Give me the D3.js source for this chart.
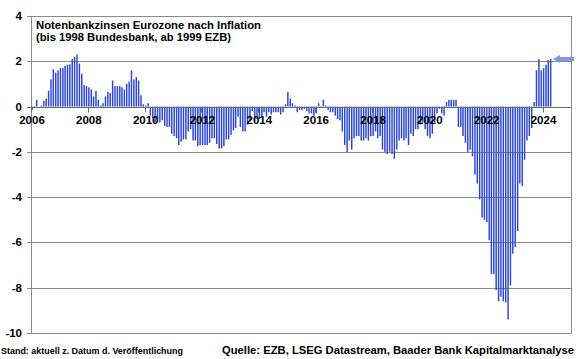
<!DOCTYPE html>
<html>
<head>
<meta charset="utf-8">
<script src="https://cdn.jsdelivr.net/npm/d3@7"></script>
<style>
  html, body { margin: 0; padding: 0; background: #fff; }
  svg { display: block; font-family: "Liberation Sans", Arial, sans-serif; }
</style>
</head>
<body>
<svg id="chart" width="580" height="359"></svg>
<script>
// ---- data (monthly, real central bank rate after inflation, % ) ----
const firstYear = 2006;
const realRate = [
  // 2006
  -0.15, -0.05, 0.3, 0.0, 0.05, 0.25, 0.35, 0.7, 1.2, 1.65, 1.5, 1.6,
  // 2007
  1.7, 1.7, 1.8, 1.85, 1.87, 2.1, 2.2, 2.3, 1.9, 1.45, 0.95, 0.9,
  // 2008
  0.85, 0.75, 0.45, 0.7, 0.3, 0.05, 0.15, 0.45, 0.65, 0.6, 1.15, 0.9,
  // 2009
  0.9, 0.9, 0.85, 0.75, 1.0, 1.1, 1.6, 1.2, 1.3, 1.15, 0.5, 0.1,
  // 2010
  0.05, 0.15, -0.4, -0.5, -0.7, -0.55, -0.7, -0.6, -0.85, -0.9, -0.9, -1.2,
  // 2011
  -1.3, -1.4, -1.7, -1.55, -1.45, -1.45, -1.1, -1.0, -1.5, -1.5, -1.75, -1.7,
  // 2012
  -1.7, -1.7, -1.7, -1.6, -1.4, -1.4, -1.65, -1.85, -1.85, -1.75, -1.45, -1.45,
  // 2013
  -1.25, -1.05, -0.95, -0.45, -0.9, -1.1, -1.1, -0.8, -0.6, -0.2, -0.65, -0.55,
  // 2014
  -0.55, -0.45, -0.25, -0.45, -0.25, -0.35, -0.25, -0.25, -0.25, -0.35, -0.25, 0.1,
  // 2015
  0.65, 0.35, 0.15, 0.05, -0.25, -0.15, -0.15, -0.1, -0.2, -0.3, -0.3, -0.4,
  // 2016
  -0.3, 0.15, -0.05, 0.3, 0.05, -0.15, -0.25, -0.25, -0.4, -0.55, -0.6, -1.1,
  // 2017
  -1.7, -2.0, -1.5, -1.9, -1.4, -1.3, -1.3, -1.5, -1.5, -1.4, -1.5, -1.3,
  // 2018
  -1.3, -1.1, -1.4, -1.3, -1.9, -2.0, -2.1, -2.0, -2.1, -2.3, -1.9, -1.5,
  // 2019
  -1.4, -1.5, -1.4, -1.7, -1.2, -1.3, -1.0, -1.0, -0.8, -0.7, -1.0, -1.3,
  // 2020
  -1.4, -1.2, -0.7, -0.3, -0.1, -0.3, -0.4, 0.2, 0.3, 0.3, 0.3, 0.3,
  // 2021
  -0.9, -0.9, -1.3, -1.6, -2.0, -1.9, -2.2, -3.0, -3.4, -4.1, -4.9, -5.0,
  // 2022
  -5.1, -5.9, -7.4, -7.4, -8.1, -8.6, -8.4, -8.6, -8.65, -9.4, -7.9, -6.5,
  // 2023
  -6.2, -5.5, -3.4, -3.5, -2.35, -1.5, -1.3, -0.95, 0.2, 1.6, 2.1, 1.6,
  // 2024
  1.7, 1.85, 2.05, 2.1
];
const xTickYears = [2006, 2008, 2010, 2012, 2014, 2016, 2018, 2020, 2022, 2024];
const yTicks = [4, 2, 0, -2, -4, -6, -8, -10];
const titleLines = ["Notenbankzinsen Eurozone nach Inflation", "(bis 1998 Bundesbank, ab 1999 EZB)"];
const footLeft = "Stand: aktuell z. Datum d. Veröffentlichung";
const footRight = "Quelle: EZB, LSEG Datastream, Baader Bank Kapitalmarktanalyse";

// ---- build ----
const data = realRate.map((v, i) => ({
  date: new Date(firstYear + Math.floor(i / 12), i % 12, 15),
  value: v
}));

const svg = d3.select("#chart");
const pLeft = 31, pRight = 571, pTop = 16, pBottom = 333;

const x = d3.scaleTime()
  .domain([new Date(2006, 0, 1), new Date(2025, 0, 1)])
  .range([pLeft, pRight]);
const y = d3.scaleLinear().domain([-10, 4]).range([pBottom, pTop]);

// gridlines
svg.append("g").selectAll("line").data(yTicks).join("line")
  .attr("x1", pLeft - 4).attr("x2", pRight)
  .attr("y1", d => Math.round(y(d)) + 0.5).attr("y2", d => Math.round(y(d)) + 0.5)
  .attr("stroke", d => d === 0 ? "#6a6a6a" : "#8c8c8c")
  .attr("stroke-width", 1);

// plot frame vertical lines
svg.append("line").attr("x1", pLeft + 0.5).attr("x2", pLeft + 0.5)
  .attr("y1", pTop).attr("y2", pBottom + 0.5).attr("stroke", "#8c8c8c");
svg.append("line").attr("x1", pRight + 0.5).attr("x2", pRight + 0.5)
  .attr("y1", pTop).attr("y2", pBottom + 0.5).attr("stroke", "#8c8c8c");

// bars
const barW = 1.45;
svg.append("g").selectAll("rect").data(data).join("rect")
  .attr("x", d => x(d.date) - barW / 2)
  .attr("width", barW)
  .attr("y", d => Math.min(y(d.value), y(0)))
  .attr("height", d => Math.abs(y(d.value) - y(0)))
  .attr("fill", "#2a46d2");

// zero line on top
const y0 = Math.round(y(0)) + 0.5;
svg.append("line").attr("x1", pLeft).attr("x2", pRight)
  .attr("y1", y0).attr("y2", y0).attr("stroke", "#6a6a6a");

// x ticks and labels
svg.append("g").selectAll("line").data(xTickYears).join("line")
  .attr("x1", d => Math.round(x(new Date(d, 0, 1))) + 0.5)
  .attr("x2", d => Math.round(x(new Date(d, 0, 1))) + 0.5)
  .attr("y1", y0).attr("y2", y0 + 5)
  .attr("stroke", "#6a6a6a");
svg.append("g").selectAll("text").data(xTickYears).join("text")
  .attr("x", d => x(new Date(d, 0, 1)) + 1)
  .attr("y", y0 + 16)
  .attr("text-anchor", "middle")
  .attr("font-size", "11.5px").attr("font-weight", "bold").attr("fill", "#000")
  .text(d => d);

// y labels
svg.append("g").selectAll("text").data(yTicks).join("text")
  .attr("x", 22)
  .attr("y", d => y(d) + 4)
  .attr("text-anchor", "end")
  .attr("font-size", "11.5px").attr("font-weight", "bold").attr("fill", "#000")
  .text(d => d);

// title
svg.append("text").attr("x", 36).attr("y", 28.5)
  .attr("font-size", "11.5px").attr("font-weight", "bold")
  .attr("textLength", 225).attr("lengthAdjust", "spacingAndGlyphs")
  .text(titleLines[0]);
svg.append("text").attr("x", 36).attr("y", 41)
  .attr("font-size", "11.5px").attr("font-weight", "bold")
  .attr("textLength", 195).attr("lengthAdjust", "spacingAndGlyphs")
  .text(titleLines[1]);

// arrow marking latest value
const last = data[data.length - 1];
const ya = y(last.value);
const arrowPts = [[553, ya], [560, ya - 4], [560, ya - 2], [574, ya - 2], [574, ya + 2], [560, ya + 2], [560, ya + 4]];
svg.append("path")
  .attr("d", d3.line()(arrowPts) + "Z")
  .attr("fill", "#7898ee");

// footers
svg.append("text").attr("x", 1).attr("y", 354)
  .attr("font-size", "8.5px").attr("font-weight", "bold")
  .attr("textLength", 182).attr("lengthAdjust", "spacingAndGlyphs")
  .text(footLeft);
svg.append("text").attr("x", 222).attr("y", 354)
  .attr("font-size", "11px").attr("font-weight", "bold")
  .attr("textLength", 352).attr("lengthAdjust", "spacingAndGlyphs")
  .text(footRight);
</script>
</body>
</html>
